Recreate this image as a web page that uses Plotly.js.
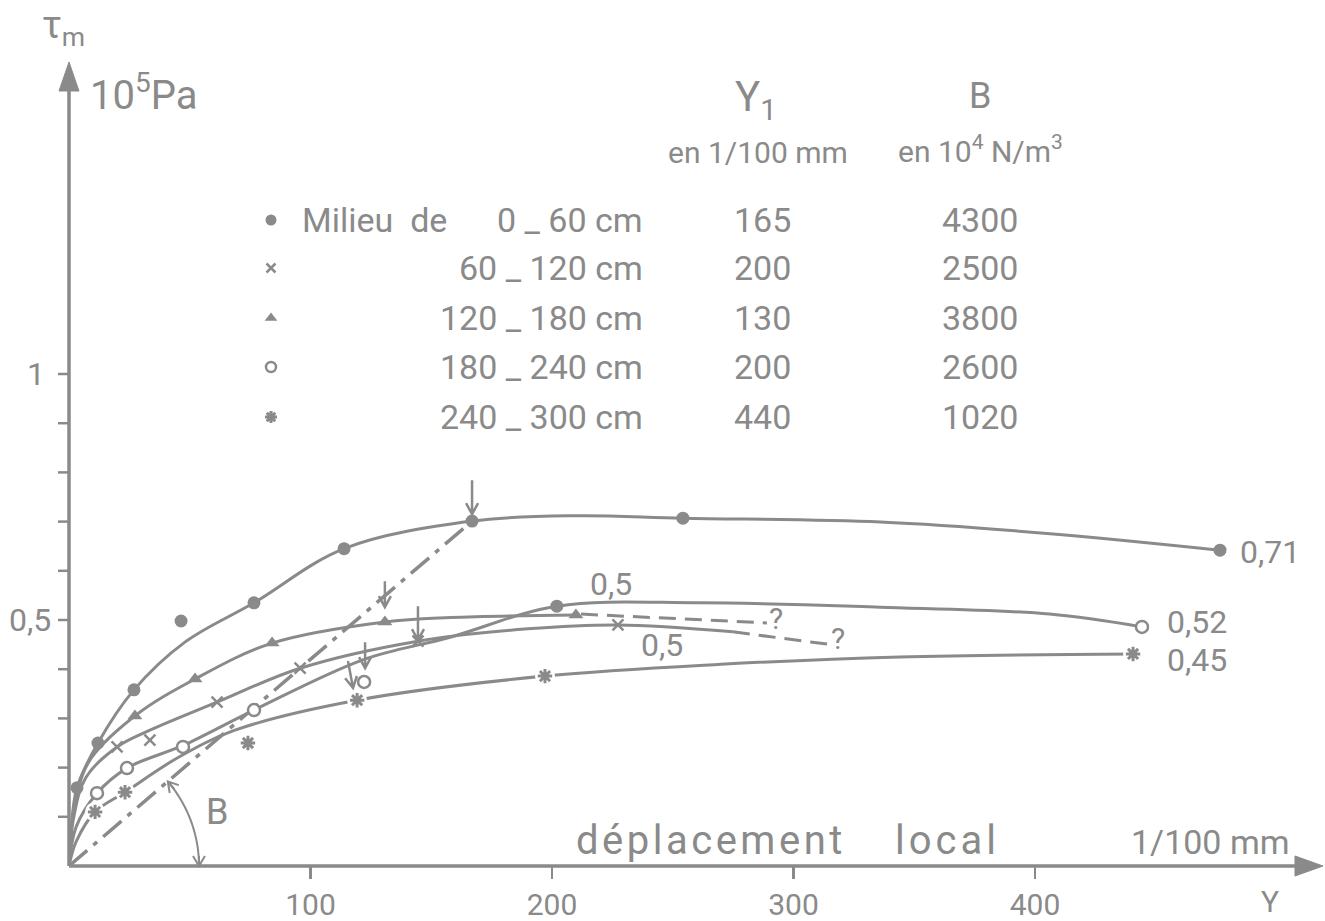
<!DOCTYPE html>
<html>
<head>
<meta charset="utf-8">
<script src="https://cdn.plot.ly/plotly-3.0.1.min.js"></script>
<style>html,body{margin:0;padding:0;background:#ffffff;}#chart{width:1325px;height:921px;}</style>
</head>
<body>
<div id="chart"></div>
<script>
// ---------------- data ----------------
// x : déplacement local Y (1/100 mm)   y : τm (10^5 Pa)

// Milieu de 0 - 60 cm (filled circles)
const s1X = [3.3, 12.0, 26.9, 46.4, 76.6, 113.9, 166.9, 254.2, 476.6];
const s1Y = [0.159, 0.250, 0.358, 0.498, 0.535, 0.645, 0.701, 0.707, 0.642];
const c1X = [0, 0.8, 3.3, 12.0, 26.9, 48, 76.6, 113.9, 166.9, 210, 254.2, 336, 405, 476.6];
const c1Y = [0, 0.07, 0.159, 0.250, 0.358, 0.455, 0.535, 0.645, 0.701, 0.712, 0.707, 0.699, 0.676, 0.642];

// 60 - 120 cm (crosses)
const s2X = [19.9, 33.5, 61.3, 95.7, 144.5, 227.3];
const s2Y = [0.242, 0.256, 0.333, 0.402, 0.457, 0.490];
const c2X = [0, 2, 7, 19.9, 33.5, 61.3, 95.7, 144.5, 190, 227.3, 274.9];
const c2Y = [0, 0.10, 0.18, 0.242, 0.276, 0.333, 0.402, 0.457, 0.482, 0.490, 0.476];
const d2X = [274.9, 313.9];
const d2Y = [0.476, 0.451];

// 120 - 180 cm (triangles)
const s3X = [27.3, 52.2, 84.1, 130.8, 209.9];
const s3Y = [0.305, 0.380, 0.453, 0.496, 0.510];
const c3X = [0, 2, 8, 27.3, 52.2, 84.1, 130.8, 158, 209.9];
const c3Y = [0, 0.11, 0.21, 0.305, 0.380, 0.453, 0.496, 0.505, 0.510];
const d3X = [212, 289];
const d3Y = [0.512, 0.494];

// 180 - 240 cm (open circles)
const s4X = [11.6, 24.0, 47.2, 76.6, 122.2, 444.3];
const s4Y = [0.148, 0.199, 0.242, 0.317, 0.374, 0.486];
const c4X = [0, 3, 11.6, 24.0, 47.2, 76.6, 121.7, 157.8, 202, 261, 335.8, 406, 444.3];
const c4Y = [0, 0.08, 0.148, 0.199, 0.245, 0.317, 0.419, 0.465, 0.528, 0.535, 0.526, 0.512, 0.486];
const dotX = [202];
const dotY = [0.528];

// 240 - 300 cm (stars)
const s5X = [10.8, 23.2, 74.1, 119.3, 197.1, 440.6];
const s5Y = [0.110, 0.150, 0.250, 0.337, 0.386, 0.431];
const c5X = [0, 3, 10.8, 23.2, 45, 68.7, 119.3, 197.1, 270, 344, 440.6];
const c5Y = [0, 0.05, 0.110, 0.150, 0.22, 0.276, 0.337, 0.386, 0.41, 0.425, 0.431];

// initial slope B (dash-dot) and Y1 arrows (tip positions)
const bX = [0, 166.9];
const bY = [0, 0.701];
const arrowX = [166.9, 130.8, 144.5, 122.6, 117.6];
const arrowY = [0.715, 0.526, 0.459, 0.402, 0.362];

// legend table
const rangeLabels = ['0 _ 60 cm', '60 _ 120 cm', '120 _ 180 cm', '180 _ 240 cm', '240 _ 300 cm'];
const y1Values = ['165', '200', '130', '200', '440'];
const bValues = ['4300', '2500', '3800', '2600', '1020'];
const maxLabels = ['0,71', '0,52', '0,45'];
const midLabels = ['0,5', '0,5'];

// axis ticks
const xTickVals = [100, 200, 300, 400];
const xTickText = ['100', '200', '300', '400'];
const yTickVals = [0.1, 0.2, 0.3, 0.4, 0.5, 0.6, 0.7, 0.8, 0.9, 1.0];
const yLabelVals = [0.5, 1.0];
const yLabelText = ['0,5', '1'];

// ---------------- layout geometry ----------------
const W = 1325, H = 921, L = 69, R = 2, T = 62, B = 55;
const pw = W - L - R, ph = H - T - B;
const pxPerX = 2.415, pxPerY = 492;
const xMax = pw / pxPerX, yMax = ph / pxPerY;
const GRAY = '#8a8a8a';
const FONT = 'Roboto, "Open Sans", sans-serif';

const px2paperX = px => (px - L) / pw;
const py2paperY = py => (H - B - py) / ph;
const px2dataX = px => (px - L) / pxPerX;
const py2dataY = py => (H - B - py) / pxPerY;
const dataX2px = x => L + x * pxPerX;
const dataY2py = y => (H - B) - y * pxPerY;
const P = (px, py) => px2paperX(px).toFixed(5) + ',' + py2paperY(py).toFixed(5);

function txt(text, px, py, size, xanchor) {
  return {text: text, xref: 'paper', yref: 'paper', x: px2paperX(px), y: py2paperY(py),
    xanchor: xanchor || 'center', yanchor: 'middle', showarrow: false,
    font: {family: FONT, size: size, color: GRAY}};
}
// open "V" arrow drawn as a path (pixel geometry -> paper coords)
function arrowPath(tx, ty, sx, sy, head, half, width) {
  const dx = tx - sx, dy = ty - sy, len = Math.hypot(dx, dy);
  const ux = dx / len, uy = dy / len, nx = -uy, ny = ux;
  const bx = tx - ux * head, by = ty - uy * head;
  return {type: 'path', xref: 'paper', yref: 'paper',
    path: 'M' + P(sx, sy) + 'L' + P(tx, ty) + 'M' + P(bx + nx * half, by + ny * half) + 'L' + P(tx, ty) + 'L' + P(bx - nx * half, by - ny * half),
    line: {color: GRAY, width: width}};
}

// ---------------- traces ----------------
const lineStyle = {color: GRAY, width: 3, shape: 'spline', smoothing: 1};
const traces = [];
[[c1X, c1Y], [c2X, c2Y], [c3X, c3Y], [c4X, c4Y], [c5X, c5Y]].forEach(c => {
  traces.push({x: c[0], y: c[1], mode: 'lines', line: lineStyle, hoverinfo: 'skip', cliponaxis: false});
});
traces.push({x: d2X, y: d2Y, mode: 'lines', line: {color: GRAY, width: 3, dash: '17px,9px'}, hoverinfo: 'skip'});
traces.push({x: d3X, y: d3Y, mode: 'lines', line: {color: GRAY, width: 3, dash: '17px,9px'}, hoverinfo: 'skip'});
traces.push({x: bX, y: bY, mode: 'lines', line: {color: GRAY, width: 3.5, dash: '24px,8px,5px,8px'}, hoverinfo: 'skip'});

const mk = {
  dot: {symbol: 'circle', size: 13, color: GRAY},
  cross: {symbol: 'x-thin-open', size: 11, color: GRAY, line: {color: GRAY, width: 2.5}},
  tri: {symbol: 'triangle-up', size: 13, color: GRAY},
  ring: {symbol: 'circle', size: 12, color: '#ffffff', line: {color: GRAY, width: 2.5}},
  star: {symbol: 'asterisk-open', size: 12, color: GRAY, line: {color: GRAY, width: 3}}
};
traces.push({x: s5X, y: s5Y, mode: 'markers', marker: {symbol: 'circle', size: 20, color: '#ffffff'}, hoverinfo: 'skip'});
traces.push({x: s1X, y: s1Y, mode: 'markers', marker: mk.dot, cliponaxis: false});
traces.push({x: dotX, y: dotY, mode: 'markers', marker: mk.dot});
traces.push({x: s2X, y: s2Y, mode: 'markers', marker: mk.cross});
traces.push({x: s3X, y: s3Y, mode: 'markers', marker: mk.tri});
traces.push({x: s4X, y: s4Y, mode: 'markers', marker: mk.ring, cliponaxis: false});
traces.push({x: s5X, y: s5Y, mode: 'markers', marker: mk.star, cliponaxis: false});

// legend table markers
const rowPY = [220, 268, 318, 367, 417];
const legMarkers = [mk.dot, mk.cross, mk.tri, mk.ring, mk.star];
legMarkers.forEach((m, i) => {
  const mm = JSON.parse(JSON.stringify(m));
  mm.size = Math.round(m.size * 0.85);
  traces.push({x: [px2dataX(271)], y: [py2dataY(rowPY[i])], mode: 'markers', marker: mm, hoverinfo: 'skip'});
});

// ---------------- annotations ----------------
const ann = [];
ann.push(txt('τ<sub>m</sub>', 40, 28, 38, 'left'));
ann.push(txt('10<sup>5</sup>Pa', 88, 92, 40, 'left'));
ann.push(txt('Y<sub>1</sub>', 756, 100, 42));
ann.push(txt('B', 980, 96, 36));
ann.push(txt('en 1/100 mm', 758, 152, 30));
ann.push(txt('en 10<sup>4</sup> N/m<sup>3</sup>', 980, 150, 30));
ann.push(txt('Milieu\u00a0\u00a0de', 300, rowPY[0], 34, 'left'));
rangeLabels.forEach((t, i) => ann.push(txt(t.replace(/ /g, '\u00a0'), 645, rowPY[i], 34, 'right')));
y1Values.forEach((t, i) => ann.push(txt(t, 762, rowPY[i], 34)));
bValues.forEach((t, i) => ann.push(txt(t, 980, rowPY[i], 34)));

// y tick labels
ann.push(txt(yLabelText[0], 53, dataY2py(yLabelVals[0]), 32, 'right'));
ann.push(txt(yLabelText[1], 47, dataY2py(yLabelVals[1]), 32, 'right'));

ann.push(txt(maxLabels[0], 1238, 552, 32, 'left'));
ann.push(txt(maxLabels[1], 1165, 622, 32, 'left'));
ann.push(txt(maxLabels[2], 1165, 660, 32, 'left'));
ann.push(txt(midLabels[0], 611, 584, 32));
ann.push(txt(midLabels[1], 662, 645, 32));
ann.push(txt('?', 776, 618, 30));
ann.push(txt('?', 838, 638, 30));
ann.push(txt('B', 217, 812, 36));
ann.push(txt('<span style="letter-spacing:3.5px">déplacement</span>', 574, 840, 40, 'left'));
ann.push(txt('<span style="letter-spacing:4px">local</span>', 893, 840, 40, 'left'));
ann.push(txt('1/100 mm', 1129, 842, 34, 'left'));
ann.push(txt('Y', 1270, 901, 30));

// ---------------- shapes ----------------
const shapes = [
  {type: 'line', xref: 'paper', yref: 'paper', x0: 0, y0: 0, x1: px2paperX(W - R - 12), y1: 0, line: {color: GRAY, width: 3.5}},
  {type: 'line', xref: 'paper', yref: 'paper', x0: 0, y0: 0, x1: 0, y1: py2paperY(T + 12), line: {color: GRAY, width: 3.5}},
  {type: 'path', xref: 'paper', yref: 'paper', path: 'M' + P(W - R, H - B) + 'L' + P(W - R - 28, H - B - 10) + 'L' + P(W - R - 28, H - B + 10) + 'Z', fillcolor: GRAY, line: {color: GRAY, width: 1}},
  {type: 'path', xref: 'paper', yref: 'paper', path: 'M' + P(L, T) + 'L' + P(L - 10, T + 29) + 'L' + P(L + 10, T + 29) + 'Z', fillcolor: GRAY, line: {color: GRAY, width: 1}}
];
// y ticks (outside, left)
yTickVals.forEach(v => shapes.push({type: 'line', xref: 'paper', yref: 'y', x0: px2paperX(L - 11), x1: 0, y0: v, y1: v,
  line: {color: GRAY, width: 2.5}}));

// Y1 arrows
const tails = [[0, -34], [0, -26], [0, -34], [0, -26], [-5, -27]];
arrowX.forEach((x, i) => {
  const tx = dataX2px(x), ty = dataY2py(arrowY[i]);
  shapes.push(arrowPath(tx, ty, tx + tails[i][0], ty + tails[i][1], 11, 6, 2.5));
});

// angle B arc with arrowheads at both ends
const theta = Math.atan2(bY[1] * pxPerY, bX[1] * pxPerX);
const rArc = 130;
let arc = '';
for (let k = 0; k <= 40; k++) {
  const a = theta * k / 40;
  arc += (k === 0 ? 'M' : 'L') + P(L + rArc * Math.cos(a), (H - B) - rArc * Math.sin(a));
}
shapes.push({type: 'path', xref: 'paper', yref: 'paper', path: arc, line: {color: GRAY, width: 2}});
const eA = [L + rArc * Math.cos(theta), (H - B) - rArc * Math.sin(theta)];
shapes.push(arrowPath(eA[0], eA[1], eA[0] + 10 * Math.sin(theta), eA[1] + 10 * Math.cos(theta), 10, 6, 2));
shapes.push(arrowPath(L + rArc, H - B, L + rArc, H - B - 10, 10, 6, 2));

const layout = {
  width: W, height: H,
  margin: {l: L, r: R, t: T, b: B, pad: 0},
  paper_bgcolor: '#ffffff', plot_bgcolor: '#ffffff',
  showlegend: false,
  xaxis: {range: [0, xMax], showgrid: false, zeroline: false, showline: false,
    ticks: 'outside', ticklen: 12, tickwidth: 2.5, tickcolor: GRAY,
    tickvals: xTickVals, ticktext: xTickText, ticklabelstandoff: 0,
    tickfont: {family: FONT, size: 30, color: GRAY}, fixedrange: true},
  yaxis: {range: [0, yMax], showgrid: false, zeroline: false, showline: false,
    ticks: '', showticklabels: false, fixedrange: true},
  shapes: shapes,
  annotations: ann
};

Plotly.newPlot('chart', traces, layout, {staticPlot: true, displayModeBar: false});
</script>
</body>
</html>
